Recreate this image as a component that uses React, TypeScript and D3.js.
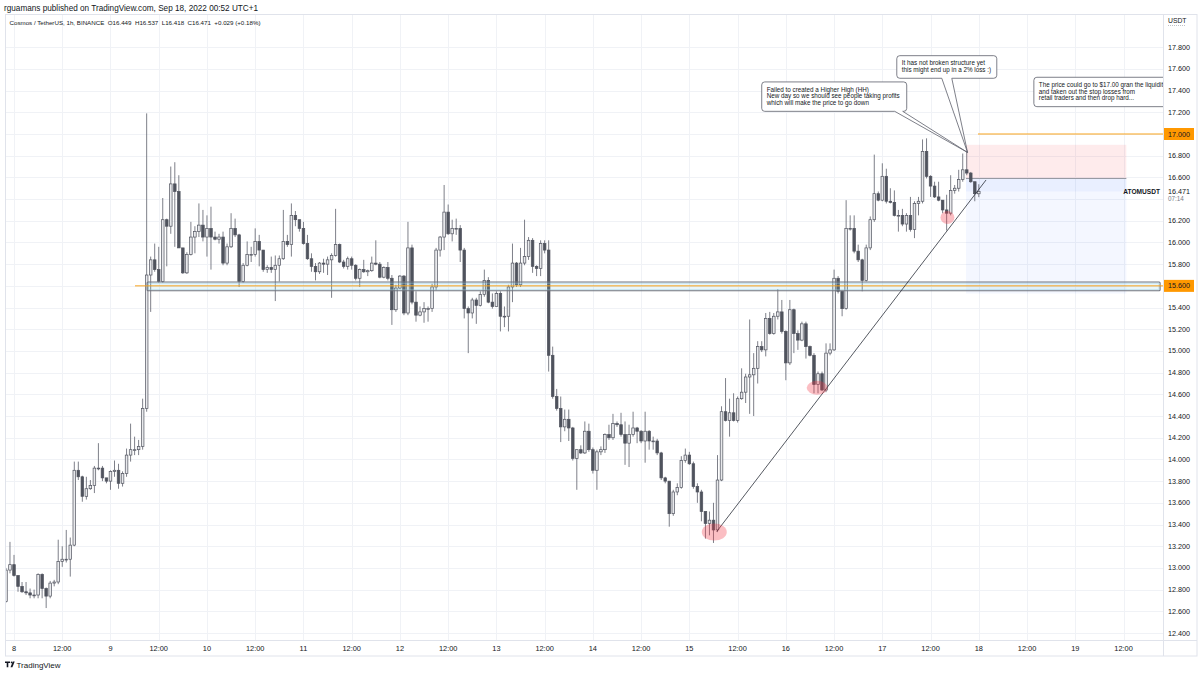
import { useEffect, useRef } from 'react';
import * as d3 from 'd3';

const W = 1200;
const H = 675;
const PLOT = { left: 6, right: 1163, top: 15, bottom: 640, axisRight: 1197, axisBottom: 656 };
const FONT = '"Liberation Sans", Arial, sans-serif';

// chart time is UTC+1, kept as UTC values so labels read as on the chart
const DAY0 = Date.UTC(2022, 8, 8, 0);
const FIRST_BAR = Date.UTC(2022, 8, 7, 22);
const FIRST_OPEN = 12.69;
const LAST_OPEN = 16.449;

// ATOMUSDT 1h closes, one per hour from Sep 7 22:00
const CLOSE = [
  12.98, 13.03, 12.93, 12.83, 12.78, 12.77, 12.75, 12.75, 12.94, 12.81,
  12.74, 12.86, 12.87, 13.06, 13.08, 13.08, 13.21, 13.90, 13.84, 13.66,
  13.73, 13.76, 13.92, 13.92, 13.83, 13.80, 13.89, 13.90, 13.78, 13.87,
  14.04, 14.09, 14.09, 14.12, 14.47, 15.70, 15.84, 15.75, 15.64, 16.21,
  16.15, 16.54, 16.47, 15.95, 15.72, 15.89, 16.05, 16.10, 16.16, 16.05,
  16.13, 16.05, 16.03, 16.05, 15.81, 15.96, 16.13, 16.07, 15.64, 15.79,
  15.89, 15.89, 16.01, 15.93, 15.75, 15.77, 15.75, 15.79, 15.85, 16.01,
  15.98, 16.25, 16.21, 16.13, 15.99, 15.85, 15.78, 15.73, 15.81, 15.80,
  15.84, 15.88, 15.98, 15.82, 15.78, 15.85, 15.79, 15.67, 15.75, 15.73,
  15.74, 15.81, 15.80, 15.68, 15.77, 15.67, 15.38, 15.58, 15.69, 15.35,
  15.95, 15.45, 15.33, 15.36, 15.39, 15.39, 15.59, 15.93, 16.05, 16.28,
  16.08, 16.13, 16.13, 15.93, 15.39, 15.35, 15.47, 15.42, 15.52, 15.65,
  15.45, 15.41, 15.53, 15.32, 15.32, 15.59, 15.81, 15.61, 15.81, 15.87,
  16.02, 15.78, 15.76, 15.99, 15.93, 14.96, 14.58, 14.47, 14.30, 14.37,
  14.29, 14.01, 14.09, 14.06, 14.26, 14.09, 13.90, 14.07, 14.09, 14.23,
  14.20, 14.33, 14.32, 14.23, 14.15, 14.23, 14.29, 14.26, 14.17, 14.26,
  14.17, 14.17, 14.06, 13.83, 13.80, 13.50, 13.70, 13.74, 13.99, 14.04,
  13.96, 13.75, 13.70, 13.52, 13.41, 13.44, 13.35, 13.81, 14.44, 14.36,
  14.43, 14.36, 14.56, 14.62, 14.76, 14.78, 14.84, 15.04, 15.01, 15.30,
  15.16, 15.32, 15.36, 15.18, 14.89, 15.38, 15.16, 15.10, 15.25, 15.04,
  14.96, 14.69, 14.79, 14.64, 14.98, 15.01, 15.67, 15.55, 15.39, 16.13,
  16.13, 15.92, 15.84, 15.65, 15.95, 16.21, 16.45, 16.39, 16.61, 16.38,
  16.37, 16.25, 16.25, 16.17, 16.25, 16.12, 16.36, 16.38, 16.84, 16.61,
  16.52, 16.42, 16.39, 16.30, 16.27, 16.48, 16.50, 16.58, 16.67, 16.64,
  16.56, 16.45, 16.471,
];

const HIGH = [
  13.00, 13.24, 13.12, 12.93, 12.87, 12.87, 12.81, 12.80, 12.95, 12.95,
  12.82, 12.88, 12.89, 13.26, 13.20, 13.35, 13.28, 13.98, 13.98, 13.85,
  13.84, 13.81, 13.94, 14.15, 13.94, 13.83, 13.90, 13.99, 13.96, 13.89,
  14.10, 14.33, 14.21, 14.18, 14.56, 17.19, 15.87, 15.99, 15.96, 16.41,
  16.22, 16.70, 16.74, 16.62, 15.95, 15.91, 16.19, 16.15, 16.36, 16.30,
  16.25, 16.33, 16.10, 16.08, 16.10, 15.99, 16.27, 16.22, 16.08, 15.81,
  16.01, 15.96, 16.13, 16.07, 15.93, 15.79, 15.87, 15.88, 15.88, 16.30,
  16.07, 16.36, 16.29, 16.20, 16.19, 16.07, 15.90, 15.81, 15.82, 15.85,
  15.87, 15.90, 16.31, 15.99, 15.84, 15.87, 15.87, 15.80, 15.76, 15.84,
  15.75, 15.87, 16.02, 15.82, 15.78, 15.82, 15.70, 15.61, 15.70, 15.70,
  16.19, 15.98, 15.55, 15.41, 15.45, 15.41, 15.62, 15.95, 16.06, 16.53,
  16.35, 16.21, 16.22, 16.16, 15.95, 15.41, 15.49, 15.49, 15.55, 15.75,
  15.68, 15.53, 15.55, 15.55, 15.41, 15.61, 15.99, 15.82, 15.95, 16.21,
  16.05, 16.04, 15.79, 16.02, 16.02, 16.02, 15.04, 14.65, 14.58, 14.46,
  14.46, 14.30, 14.09, 14.13, 14.35, 14.33, 14.11, 14.09, 14.12, 14.24,
  14.32, 14.42, 14.35, 14.43, 14.35, 14.32, 14.44, 14.30, 14.27, 14.44,
  14.27, 14.21, 14.19, 14.07, 13.84, 13.80, 13.72, 13.78, 14.03, 14.10,
  14.07, 13.98, 13.78, 13.72, 13.52, 13.52, 13.60, 14.04, 14.49, 14.75,
  14.56, 14.61, 14.58, 14.84, 14.79, 15.29, 14.98, 15.09, 15.09, 15.35,
  15.36, 15.35, 15.57, 15.47, 15.19, 15.47, 15.39, 15.19, 15.27, 15.27,
  15.05, 14.98, 14.81, 14.81, 15.07, 15.07, 15.75, 15.69, 15.55, 16.39,
  16.25, 16.25, 15.98, 15.85, 15.98, 16.24, 16.81, 16.47, 16.73, 16.68,
  16.50, 16.48, 16.30, 16.31, 16.27, 16.42, 16.38, 16.42, 16.95, 16.96,
  16.62, 16.56, 16.56, 16.39, 16.44, 16.62, 16.53, 16.67, 16.82, 16.84,
  16.65, 16.56, 16.537,
];

const LOW = [
  12.68, 12.95, 12.92, 12.78, 12.77, 12.75, 12.72, 12.72, 12.72, 12.72,
  12.63, 12.72, 12.83, 12.85, 13.01, 13.05, 12.92, 13.20, 13.81, 13.61,
  13.63, 13.72, 13.69, 13.90, 13.80, 13.78, 13.72, 13.84, 13.73, 13.75,
  13.84, 13.98, 14.04, 14.04, 14.09, 14.44, 15.36, 15.73, 15.63, 15.63,
  15.78, 16.08, 15.96, 15.95, 15.71, 15.71, 15.88, 15.90, 16.05, 16.01,
  15.87, 15.75, 16.02, 15.99, 15.79, 15.79, 15.95, 16.05, 15.59, 15.63,
  15.78, 15.82, 15.87, 15.78, 15.73, 15.72, 15.72, 15.46, 15.64, 15.84,
  15.96, 15.87, 16.15, 16.10, 15.98, 15.84, 15.73, 15.65, 15.71, 15.72,
  15.70, 15.49, 15.87, 15.81, 15.76, 15.75, 15.75, 15.65, 15.59, 15.72,
  15.69, 15.73, 15.79, 15.67, 15.67, 15.65, 15.24, 15.36, 15.57, 15.33,
  15.33, 15.43, 15.27, 15.32, 15.26, 15.27, 15.36, 15.56, 15.87, 15.93,
  16.07, 16.01, 16.07, 15.82, 15.30, 14.98, 15.30, 15.25, 15.41, 15.50,
  15.44, 15.39, 15.41, 15.18, 15.22, 15.18, 15.45, 15.59, 15.59, 15.79,
  15.84, 15.72, 15.69, 15.69, 15.90, 14.81, 14.56, 14.45, 14.16, 14.26,
  14.17, 13.99, 13.72, 14.05, 14.05, 14.07, 13.87, 13.72, 14.04, 14.06,
  14.18, 14.18, 14.30, 14.21, 13.95, 13.93, 14.21, 14.15, 14.15, 13.97,
  14.09, 14.09, 14.04, 13.81, 13.78, 13.38, 13.48, 13.67, 13.73, 13.97,
  13.95, 13.73, 13.60, 13.43, 13.27, 13.30, 13.23, 13.33, 13.80, 14.35,
  14.21, 14.35, 14.34, 14.55, 14.52, 14.42, 14.40, 14.70, 14.99, 14.95,
  15.15, 15.15, 15.29, 15.16, 14.73, 14.87, 14.98, 15.01, 15.09, 14.93,
  14.95, 14.61, 14.61, 14.63, 14.62, 14.96, 15.00, 15.53, 15.32, 15.38,
  16.11, 15.90, 15.82, 15.55, 15.64, 15.93, 16.19, 16.38, 16.38, 16.36,
  16.36, 16.24, 16.10, 16.15, 16.10, 16.10, 16.04, 16.25, 16.36, 16.59,
  16.42, 16.41, 16.38, 16.27, 16.11, 16.25, 16.45, 16.47, 16.56, 16.62,
  16.55, 16.38, 16.418,
];

const PRICE_GRID = [
  12.4, 12.6, 12.8, 13.0, 13.2, 13.4, 13.6, 13.8, 14.0, 14.2, 14.4, 14.6, 14.8, 15.0,
  15.2, 15.4, 15.6, 15.8, 16.0, 16.2, 16.4, 16.6, 16.8, 17.0, 17.2, 17.4, 17.6, 17.8,
];
// labels hidden behind the marker boxes on the price scale
const PRICE_HIDDEN = [17.0, 15.6, 16.4];

const LAST_PRICE = 16.471;
const LAST_COUNTDOWN = '07:14';
const SYMBOL = 'ATOMUSDT';
const HEADER = 'rguamans published on TradingView.com, Sep 18, 2022 00:52 UTC+1';
const LEGEND = 'Cosmos / TetherUS, 1h, BINANCE  O16.449  H16.537  L16.418  C16.471  +0.029 (+0.18%)';

// drawings: times in hours after Sep 8 00:00
const ZONE = { start: 33.1, end: 285.1, top: 15.635, bottom: 15.555 };
const LEVELS = [
  { price: 15.6, start: 30.1, label: '15.600' },
  { price: 17.0, start: 239.8, label: '17.000' },
];
const POSITION = { start: 236.8, end: 276.7, stop: 16.9, entry: 16.59, target: 15.53 };
const TRENDLINE = [
  { t: 174.8, p: 13.335 },
  { t: 241.8, p: 16.576 },
];
const HIGHLIGHTS = [
  { t: 174.2, p: 13.33, rx: 12.5, ry: 8.5 },
  { t: 199.8, p: 14.66, rx: 10.5, ry: 7 },
  { t: 232.2, p: 16.23, rx: 7, ry: 6.5 },
];
const CALLOUTS = [
  {
    t: 186.0, p: 17.48, w: 145, h: 29.4, base: [133, 141], tip: { t: 237.2, p: 16.83 },
    lines: ['Failed to created a Higher High (HH)', 'New day so we should see people taking profits', 'which will make the price to go down'],
  },
  {
    t: 219.6, p: 17.722, w: 100, h: 22.6, base: [45, 55], tip: { t: 237.2, p: 16.83 },
    lines: ['It has not broken structure yet', 'this might end up in a 2% loss :)'],
  },
  {
    t: 253.7, p: 17.523, w: 170, h: 29.4, base: null, tip: null,
    lines: ['The price could go to $17.00 gran the liquidity', 'and taken out the stop losses from', 'retail traders and then drop hard...'],
  },
];

const hr = (t: number) => new Date(DAY0 + t * 3600e3);

function calloutPath(x0: number, y0: number, w: number, h: number, r: number, base: number[] | null, tip: number[] | null) {
  const x1 = x0 + w;
  const y1 = y0 + h;
  let p = `M${x0 + r},${y0}H${x1 - r}Q${x1},${y0} ${x1},${y0 + r}V${y1 - r}Q${x1},${y1} ${x1 - r},${y1}`;
  if (base && tip) p += `H${x0 + base[1]}L${tip[0]},${tip[1]}L${x0 + base[0]},${y1}`;
  p += `H${x0 + r}Q${x0},${y1} ${x0},${y1 - r}V${y0 + r}Q${x0},${y0} ${x0 + r},${y0}Z`;
  return p;
}

export default function App() {
  const svgRef = useRef<SVGSVGElement>(null);

  useEffect(() => {
    const svg = d3.select(svgRef.current);
    svg.selectAll('*').remove();

    const xScale = d3.scaleUtc()
      .domain([hr(0), hr(276)])
      .range([14, 14 + 276 * 4.02]);
    const yScale = d3.scaleLinear().domain([12.4, 17.0]).range([633, 134]);

    const bars = CLOSE.map((c, i) => {
      const o = i === 0 ? FIRST_OPEN : i === CLOSE.length - 1 ? LAST_OPEN : CLOSE[i - 1];
      return {
        t: new Date(FIRST_BAR + i * 3600e3),
        o, c,
        h: Math.max(HIGH[i], o, c),
        l: Math.min(LOW[i], o, c),
      };
    });

    svg.append('rect').attr('width', W).attr('height', H).attr('fill', '#fff');

    const defs = svg.append('defs');
    defs.append('clipPath').attr('id', 'plot-clip')
      .append('rect')
      .attr('x', PLOT.left).attr('y', PLOT.top)
      .attr('width', PLOT.right - PLOT.left).attr('height', PLOT.bottom - PLOT.top);

    // header
    svg.append('text')
      .attr('x', 4).attr('y', 11)
      .attr('font-family', FONT).attr('font-size', 8.2).attr('fill', '#131722')
      .text(HEADER);

    const plot = svg.append('g').attr('clip-path', 'url(#plot-clip)');

    // grid
    const xTicks = xScale.ticks(d3.utcHour.every(12) as any);
    plot.append('g').selectAll('line')
      .data(xTicks)
      .join('line')
      .attr('x1', d => Math.round(xScale(d)) + 0.5).attr('x2', d => Math.round(xScale(d)) + 0.5)
      .attr('y1', PLOT.top).attr('y2', PLOT.bottom)
      .attr('stroke', '#f0f2f6');
    plot.append('g').selectAll('line')
      .data(PRICE_GRID)
      .join('line')
      .attr('x1', PLOT.left).attr('x2', PLOT.right)
      .attr('y1', d => Math.round(yScale(d)) + 0.5).attr('y2', d => Math.round(yScale(d)) + 0.5)
      .attr('stroke', '#f0f2f6');

    // long/short position tool
    const px0 = xScale(hr(POSITION.start));
    const px1 = xScale(hr(POSITION.end));
    plot.append('rect')
      .attr('x', px0).attr('width', px1 - px0)
      .attr('y', yScale(POSITION.stop)).attr('height', yScale(POSITION.entry) - yScale(POSITION.stop))
      .attr('fill', 'rgba(242,54,69,0.1)');
    plot.append('rect')
      .attr('x', px0).attr('width', px1 - px0)
      .attr('y', yScale(POSITION.entry)).attr('height', yScale(POSITION.target) - yScale(POSITION.entry))
      .attr('fill', 'rgba(41,98,255,0.05)');
    plot.append('rect')
      .attr('x', px0).attr('width', px1 - px0)
      .attr('y', yScale(POSITION.entry)).attr('height', yScale(LAST_PRICE) - yScale(POSITION.entry))
      .attr('fill', 'rgba(41,98,255,0.05)');
    plot.append('line')
      .attr('x1', px0).attr('x2', px1)
      .attr('y1', yScale(POSITION.entry)).attr('y2', yScale(POSITION.entry))
      .attr('stroke', '#9598a1').attr('stroke-width', 1);

    // candles
    const candles = plot.append('g');
    candles.selectAll('line')
      .data(bars)
      .join('line')
      .attr('x1', d => xScale(d.t)).attr('x2', d => xScale(d.t))
      .attr('y1', d => yScale(d.h)).attr('y2', d => yScale(d.l))
      .attr('stroke', '#5d606b').attr('stroke-width', 0.8);
    candles.selectAll('rect')
      .data(bars)
      .join('rect')
      .attr('x', d => xScale(d.t) - 1.3)
      .attr('width', 2.6)
      .attr('y', d => yScale(Math.max(d.o, d.c)))
      .attr('height', d => Math.max(0.8, Math.abs(yScale(d.o) - yScale(d.c))))
      .attr('fill', d => (d.c >= d.o ? '#e8e9ec' : '#4f535d'))
      .attr('stroke', '#50535e').attr('stroke-width', 0.7);

    // support zone
    const zx0 = xScale(hr(ZONE.start));
    const zx1 = xScale(hr(ZONE.end));
    plot.append('rect')
      .attr('x', zx0).attr('width', zx1 - zx0)
      .attr('y', yScale(ZONE.top)).attr('height', yScale(ZONE.bottom) - yScale(ZONE.top))
      .attr('rx', 1)
      .attr('fill', 'rgba(120,200,225,0.16)')
      .attr('stroke', '#71747e').attr('stroke-width', 1.1);
    plot.append('rect')
      .attr('x', zx0 + 1.2).attr('width', zx1 - zx0 - 2.4)
      .attr('y', yScale(ZONE.top) + 1.2).attr('height', yScale(ZONE.bottom) - yScale(ZONE.top) - 2.4)
      .attr('fill', 'none')
      .attr('stroke', 'rgba(150,200,215,0.6)').attr('stroke-width', 0.6);

    // horizontal levels
    plot.selectAll('.level')
      .data(LEVELS)
      .join('line')
      .attr('class', 'level')
      .attr('x1', d => xScale(hr(d.start))).attr('x2', PLOT.right)
      .attr('y1', d => yScale(d.price)).attr('y2', d => yScale(d.price))
      .attr('stroke', '#f7a21b').attr('stroke-width', 1);

    // trend line
    plot.append('line')
      .attr('x1', xScale(hr(TRENDLINE[0].t))).attr('y1', yScale(TRENDLINE[0].p))
      .attr('x2', xScale(hr(TRENDLINE[1].t))).attr('y2', yScale(TRENDLINE[1].p))
      .attr('stroke', '#2a2e39').attr('stroke-width', 0.8);

    // highlighted lows
    plot.selectAll('.hl')
      .data(HIGHLIGHTS)
      .join('ellipse')
      .attr('class', 'hl')
      .attr('cx', d => xScale(hr(d.t))).attr('cy', d => yScale(d.p))
      .attr('rx', d => d.rx).attr('ry', d => d.ry)
      .attr('fill', 'rgba(242,54,69,0.32)');

    // callouts
    CALLOUTS.forEach(cb => {
      const x0 = xScale(hr(cb.t));
      const y0 = yScale(cb.p);
      const tip = cb.tip ? [xScale(hr(cb.tip.t)), yScale(cb.tip.p)] : null;
      plot.append('path')
        .attr('d', calloutPath(x0, y0, cb.w, cb.h, 3, cb.base, tip))
        .attr('fill', '#fff')
        .attr('stroke', '#5d606b').attr('stroke-width', 0.8);
      const txt = plot.append('text')
        .attr('font-family', FONT).attr('font-size', 6.3).attr('fill', '#131722');
      cb.lines.forEach((ln, i) => {
        txt.append('tspan').attr('x', x0 + 5).attr('y', y0 + 9.6 + i * 6.7).text(ln);
      });
    });

    // symbol label near last bar
    plot.append('text')
      .attr('x', PLOT.right - 3).attr('y', yScale(LAST_PRICE) + 2.3)
      .attr('text-anchor', 'end')
      .attr('font-family', FONT).attr('font-size', 6.6).attr('font-weight', 700).attr('fill', '#131722')
      .text(SYMBOL);

    // legend
    plot.append('text')
      .attr('x', 9.5).attr('y', 24.5)
      .attr('font-family', FONT).attr('font-size', 6.2).attr('fill', '#131722')
      .style('white-space', 'pre')
      .text(LEGEND);

    // frame
    const frame = svg.append('g').attr('fill', 'none').attr('stroke', '#e0e3eb').attr('stroke-width', 1);
    frame.append('rect')
      .attr('x', PLOT.left - 0.5).attr('y', PLOT.top - 0.5)
      .attr('width', PLOT.axisRight - PLOT.left + 0.5).attr('height', PLOT.axisBottom - PLOT.top + 0.5);
    frame.append('line')
      .attr('x1', PLOT.right + 0.5).attr('x2', PLOT.right + 0.5)
      .attr('y1', PLOT.top).attr('y2', PLOT.axisBottom);
    frame.append('line')
      .attr('x1', PLOT.left).attr('x2', PLOT.axisRight)
      .attr('y1', PLOT.bottom + 0.5).attr('y2', PLOT.bottom + 0.5);

    // price scale
    const axis = svg.append('g').attr('font-family', FONT).attr('font-size', 7.2).attr('fill', '#131722');
    axis.append('text').attr('x', 1168).attr('y', 22.5).attr('font-size', 6.8).text('USDT');
    axis.append('line')
      .attr('x1', 1168).attr('x2', 1186).attr('y1', 25.5).attr('y2', 25.5)
      .attr('stroke', '#9598a1').attr('stroke-width', 0.6).attr('stroke-dasharray', '1,1');
    axis.selectAll('.pl')
      .data(PRICE_GRID.filter(p => !PRICE_HIDDEN.includes(p)))
      .join('text')
      .attr('class', 'pl')
      .attr('x', 1168).attr('y', d => yScale(d) + 2.5)
      .text(d => d3.format('.3f')(d));

    LEVELS.forEach(lv => {
      const y = yScale(lv.price);
      axis.append('rect')
        .attr('x', PLOT.right + 1).attr('y', y - 6).attr('width', 30).attr('height', 12)
        .attr('fill', '#ff9800');
      axis.append('text').attr('x', 1168).attr('y', y + 2.5).text(lv.label);
    });

    const ly = yScale(LAST_PRICE);
    axis.append('rect')
      .attr('x', PLOT.right + 1).attr('y', ly - 6).attr('width', 30).attr('height', 18)
      .attr('fill', '#fff');
    axis.append('text').attr('x', 1168).attr('y', ly + 2.5).text(d3.format('.3f')(LAST_PRICE));
    axis.append('text').attr('x', 1168).attr('y', ly + 10).attr('font-size', 6.3).attr('fill', '#787b86')
      .text(LAST_COUNTDOWN);

    // time scale
    svg.append('g').attr('font-family', FONT).attr('font-size', 7.4).attr('fill', '#131722')
      .selectAll('text')
      .data(xTicks)
      .join('text')
      .attr('x', d => xScale(d)).attr('y', 651)
      .attr('text-anchor', 'middle')
      .text(d => (d.getUTCHours() === 0 ? String(d.getUTCDate()) : '12:00'));

    // footer logo
    const logo = svg.append('g').attr('fill', '#131722');
    logo.append('path').attr('d', 'M5,661.5h5v1.6h-1.7v4.2h-1.6v-4.2h-1.7z');
    logo.append('circle').attr('cx', 11.6).attr('cy', 662.4).attr('r', 0.9);
    logo.append('path').attr('d', 'M12.8,661.5h1.9l-2.3,5.8h-1.9z');
    logo.append('text')
      .attr('x', 16.5).attr('y', 667.5)
      .attr('font-family', FONT).attr('font-size', 8)
      .text('TradingView');
  }, []);

  return (
    <svg
      ref={svgRef}
      width={W}
      height={H}
      style={{ position: 'absolute', left: 0, top: 0, display: 'block' }}
    />
  );
}
